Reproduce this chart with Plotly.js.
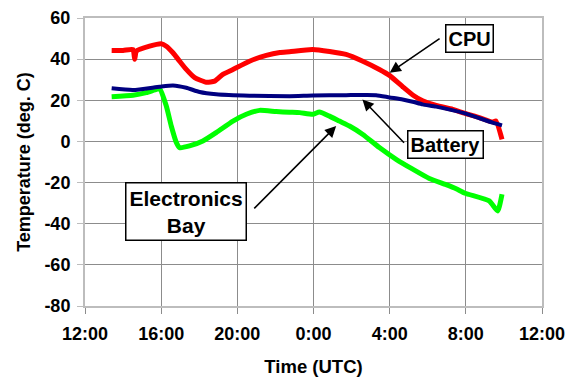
<!DOCTYPE html>
<html><head><meta charset="utf-8">
<script src="https://cdn.plot.ly/plotly-3.0.1.min.js"></script>
<style>html,body{margin:0;padding:0;background:#fff}#chart{width:572px;height:377px}</style>
</head><body><div id="chart"></div>
<script>
// Time in hours since 0:00 of day 1 (24 = 0:00 next day)
const cpuX = [13.4, 14.0, 14.52, 14.61, 14.7, 15.39, 16.0, 16.27, 16.62, 16.97, 17.32, 17.76, 18.37, 18.81, 19.24, 19.77, 20.64, 21.52, 22.23, 22.74, 23.96, 25.71, 26.59, 27.46, 27.99, 28.68, 29.21, 29.73, 30.44, 31.31, 31.96, 32.71, 33.41, 33.58, 33.9];
const cpuY = [44.2, 44.2, 44.7, 39.9, 43.9, 46.3, 47.5, 46.3, 43.1, 39.0, 35.0, 31.0, 28.8, 29.3, 32.6, 35.0, 39.0, 41.8, 43.2, 43.6, 44.7, 42.3, 39.0, 35.0, 32.1, 26.6, 22.6, 19.8, 17.5, 15.6, 13.6, 11.6, 9.4, 9.9, 1.0];

const batX = [13.4, 14.52, 15.92, 16.62, 17.32, 18.02, 18.89, 20.64, 22.74, 23.96, 25.71, 27.29, 27.99, 28.68, 29.21, 29.73, 30.44, 31.96, 33.41, 33.9];
const batY = [25.8, 25.0, 26.6, 27.2, 26.1, 24.0, 22.9, 22.2, 22.0, 22.3, 22.5, 22.5, 21.4, 20.4, 19.3, 18.0, 16.9, 13.6, 9.1, 7.8];

const ebX = [13.4, 14.52, 15.22, 15.75, 15.92, 16.27, 16.53, 16.8, 16.97, 17.49, 18.19, 18.89, 19.77, 20.47, 21.17, 22.04, 22.74, 23.28, 23.96, 24.31, 24.84, 25.36, 25.89, 26.59, 27.46, 28.34, 29.21, 30.08, 30.96, 31.49, 31.96, 33.23, 33.67, 33.9];
const ebY = [21.7, 22.4, 23.7, 25.3, 25.6, 17.2, 7.5, -0.6, -3.0, -2.2, 0.2, 4.3, 9.9, 13.2, 15.1, 14.5, 14.2, 14.0, 13.2, 14.3, 12.3, 9.9, 7.5, 3.4, -3.0, -8.7, -13.5, -18.0, -21.0, -23.0, -25.2, -28.9, -33.8, -25.7];

const xTickVals = [12, 16, 20, 24, 28, 32, 36];
const xTickText = ['12:00', '16:00', '20:00', '0:00', '4:00', '8:00', '12:00'];
const yTickVals = [-80, -60, -40, -20, 0, 20, 40, 60];
const yTickText = ['-80', '-60', '-40', '-20', '0', '20', '40', '60'];

const FONT = 'Liberation Sans, Arial, sans-serif';

const traces = [
  {x: ebX, y: ebY, mode: 'lines', line: {color: '#00ff00', width: 5, shape: 'spline', smoothing: 0.5}, name: 'Electronics Bay'},
  {x: cpuX, y: cpuY, mode: 'lines', line: {color: '#ff0000', width: 5, shape: 'spline', smoothing: 0.5}, name: 'CPU'},
  {x: batX, y: batY, mode: 'lines', line: {color: '#000080', width: 4, shape: 'spline', smoothing: 0.5}, name: 'Battery'}
];

const boxFont = {family: FONT, size: 20, color: '#000', weight: 'bold'};
function label(text, x, y, size, pad) {
  return {text: text, x: x, y: y, xref: 'x', yref: 'y', showarrow: false,
    font: Object.assign({}, boxFont, {size: size}), bgcolor: '#fff', bordercolor: '#000', borderwidth: 1.5, borderpad: pad};
}
function arrow(x, y, ax, ay) {
  return {text: '', x: x, y: y, ax: ax, ay: ay, xref: 'x', yref: 'y', axref: 'x', ayref: 'y',
    showarrow: true, arrowhead: 2, arrowsize: 1.4, arrowwidth: 1.6, arrowcolor: '#000'};
}

const layout = {
  width: 572, height: 377,
  margin: {l: 85, r: 30, t: 18, b: 71},
  paper_bgcolor: '#fff', plot_bgcolor: '#fff',
  showlegend: false,
  font: {family: FONT, size: 18, color: '#000', weight: 'bold'},
  xaxis: {
    range: [12, 36], tickmode: 'array', tickvals: xTickVals, ticktext: xTickText,
    showgrid: true, gridcolor: '#8c8c8c', gridwidth: 1,
    showline: true, linecolor: '#bdbdbd', linewidth: 2, mirror: true,
    ticks: 'outside', ticklen: 6, tickcolor: '#8c8c8c', zeroline: false,
    ticklabelstandoff: 4,
    tickfont: {family: FONT, size: 18, color: '#000', weight: 'bold'},
    title: {text: 'Time (UTC)', font: {family: FONT, size: 18.5, color: '#000', weight: 'bold'}, standoff: 21}
  },
  yaxis: {
    range: [-80, 60], tickmode: 'array', tickvals: yTickVals, ticktext: yTickText,
    showgrid: true, gridcolor: '#8c8c8c', gridwidth: 1,
    showline: true, linecolor: '#bdbdbd', linewidth: 2, mirror: true,
    ticks: 'outside', ticklen: 6, tickcolor: '#bdbdbd', zeroline: false,
    ticklabelstandoff: 3,
    tickfont: {family: FONT, size: 18, color: '#000', weight: 'bold'},
    title: {text: 'Temperature (deg. C)', font: {family: FONT, size: 18, color: '#000', weight: 'bold'}, standoff: 9}
  },
  annotations: [
    arrow(28.0, 33.4, 30.7, 50.5),
    arrow(26.57, 20.4, 28.83, -1.4),
    arrow(25.19, 7.5, 20.81, -33.3),
    label('CPU', 32.2, 50.0, 20, 2),
    label('Battery', 30.92, -1.4, 20, 2),
    label('Electronics<br>Bay', 17.28, -33.9, 21, 3)
  ]
};

Plotly.newPlot('chart', traces, layout, {displayModeBar: false, staticPlot: true});
</script>
</body></html>
